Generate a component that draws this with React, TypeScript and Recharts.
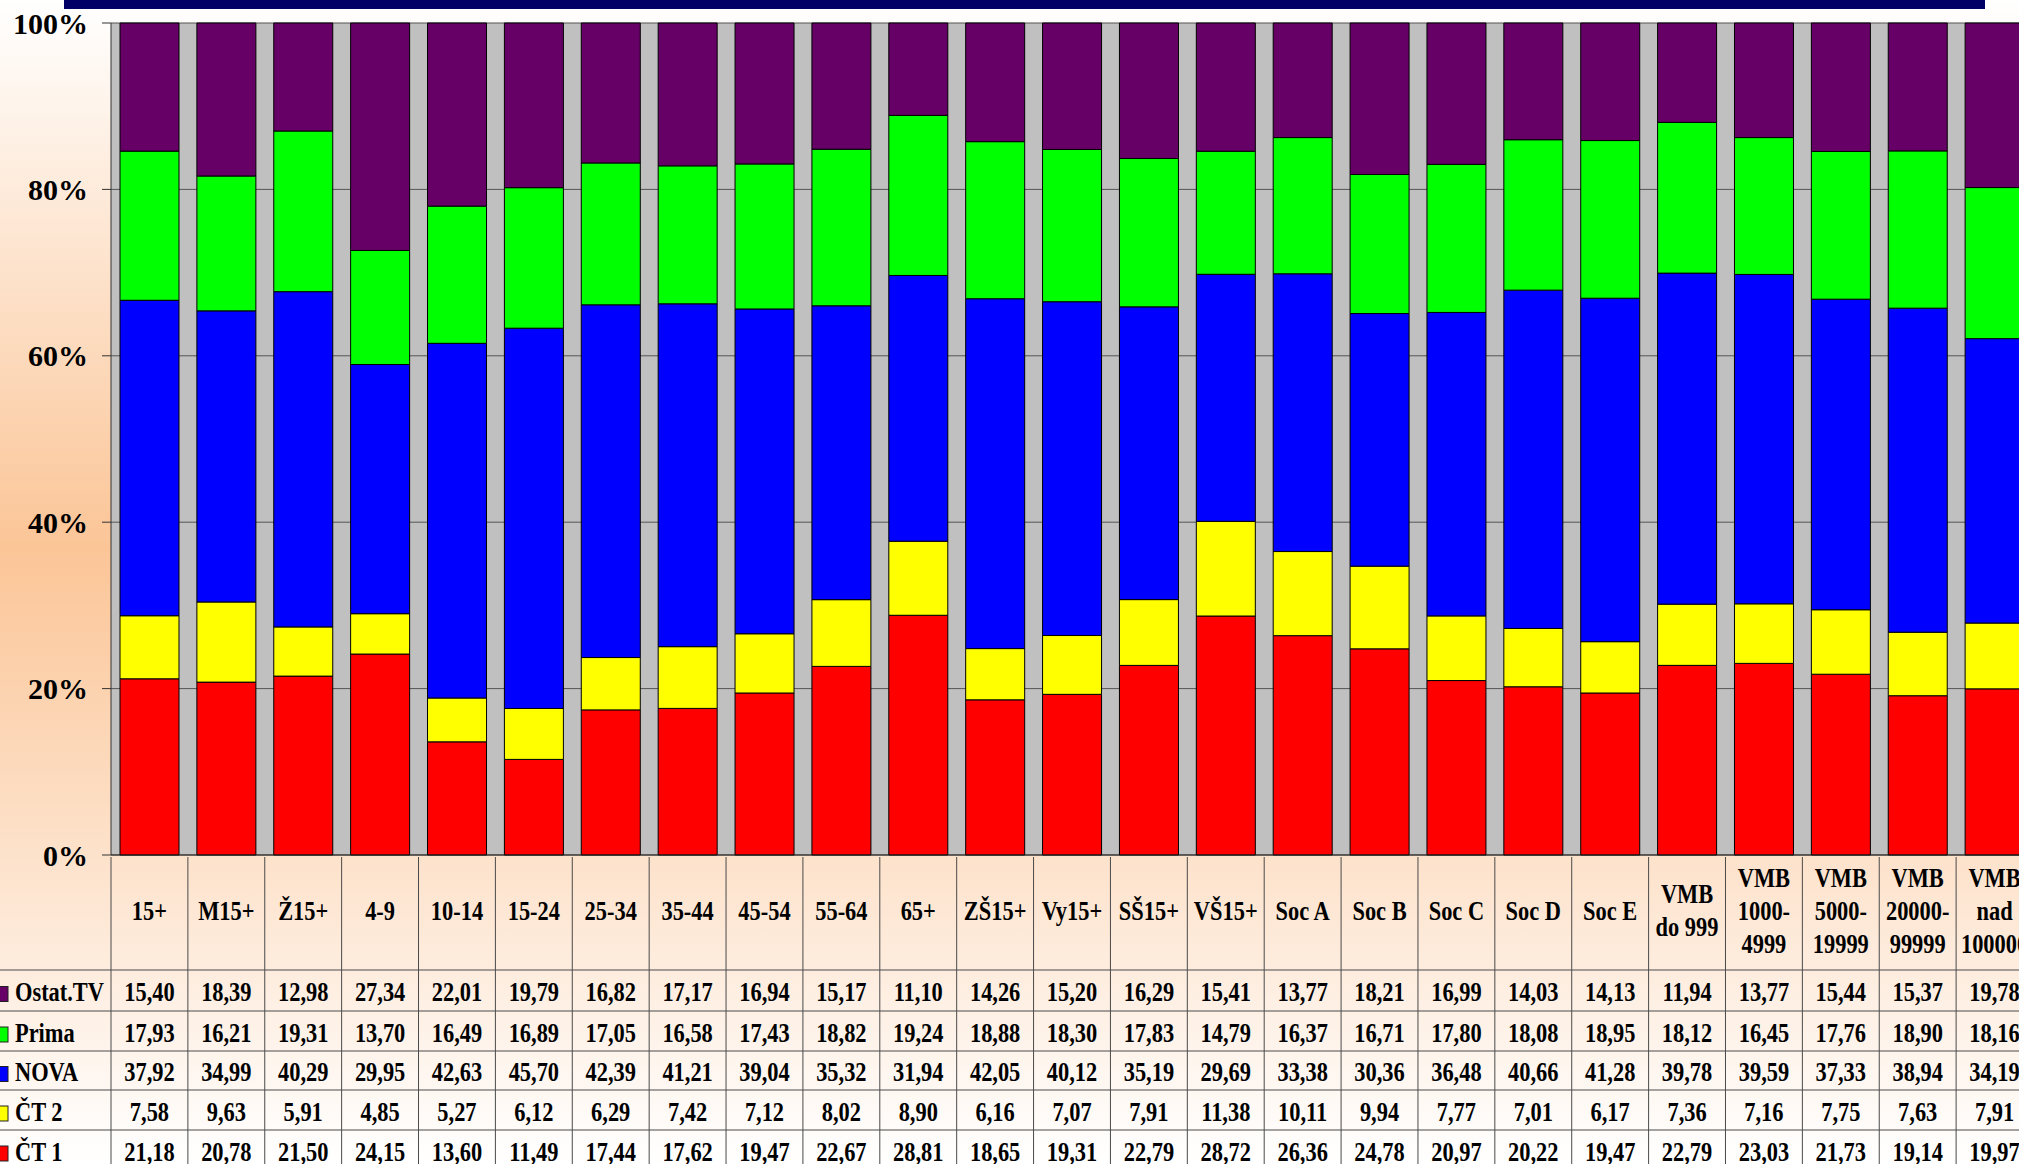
import { Bar, BarChart, CartesianGrid, XAxis, YAxis } from "recharts";

const categories = [
  "15+", "M15+", "Ž15+", "4-9", "10-14", "15-24", "25-34", "35-44", "45-54", "55-64",
  "65+", "ZŠ15+", "Vy15+", "SŠ15+", "VŠ15+", "Soc A", "Soc B", "Soc C", "Soc D", "Soc E",
  "VMB\ndo 999", "VMB\n1000-\n4999", "VMB\n5000-\n19999", "VMB\n20000-\n99999", "VMB\nnad\n100000",
];

const ostat = [15.40, 18.39, 12.98, 27.34, 22.01, 19.79, 16.82, 17.17, 16.94, 15.17, 11.10, 14.26, 15.20, 16.29, 15.41, 13.77, 18.21, 16.99, 14.03, 14.13, 11.94, 13.77, 15.44, 15.37, 19.78];
const prima = [17.93, 16.21, 19.31, 13.70, 16.49, 16.89, 17.05, 16.58, 17.43, 18.82, 19.24, 18.88, 18.30, 17.83, 14.79, 16.37, 16.71, 17.80, 18.08, 18.95, 18.12, 16.45, 17.76, 18.90, 18.16];
const nova = [37.92, 34.99, 40.29, 29.95, 42.63, 45.70, 42.39, 41.21, 39.04, 35.32, 31.94, 42.05, 40.12, 35.19, 29.69, 33.38, 30.36, 36.48, 40.66, 41.28, 39.78, 39.59, 37.33, 38.94, 34.19];
const ct2 = [7.58, 9.63, 5.91, 4.85, 5.27, 6.12, 6.29, 7.42, 7.12, 8.02, 8.90, 6.16, 7.07, 7.91, 11.38, 10.11, 9.94, 7.77, 7.01, 6.17, 7.36, 7.16, 7.75, 7.63, 7.91];
const ct1 = [21.18, 20.78, 21.50, 24.15, 13.60, 11.49, 17.44, 17.62, 19.47, 22.67, 28.81, 18.65, 19.31, 22.79, 28.72, 26.36, 24.78, 20.97, 20.22, 19.47, 22.79, 23.03, 21.73, 19.14, 19.97];

const yTicks = [0, 0.2, 0.4, 0.6, 0.8, 1];

// table row order (top to bottom); bars are stacked in reverse
const SERIES = [
  { key: "ostat", name: "Ostat.TV", color: "#660066", values: ostat },
  { key: "prima", name: "Prima", color: "#00FF00", values: prima },
  { key: "nova", name: "NOVA", color: "#0000FF", values: nova },
  { key: "ct2", name: "ČT 2", color: "#FFFF00", values: ct2 },
  { key: "ct1", name: "ČT 1", color: "#FF0000", values: ct1 },
];

const data = categories.map((name, i) => ({
  name,
  ostat: ostat[i],
  prima: prima[i],
  nova: nova[i],
  ct2: ct2[i],
  ct1: ct1[i],
}));

const FONT = '"Liberation Serif", "Times New Roman", serif';
const CHART_W = 2033;
const CHART_H = 1168;
const Y_W = 111;
const BW = (CHART_W - Y_W) / categories.length;
const HEADER_H = 113;
const ROW_H = [41, 40, 39, 40, 40];
const LINE = "#4a4a4a";
const SQUEEZE = 0.83;

const fmt = (v: number) => v.toFixed(2).replace(".", ",");

const SqText = ({ x, y, anchor, size = 27, children }: any) => (
  <text
    transform={`translate(${x},${y}) scale(${SQUEEZE},1)`}
    textAnchor={anchor}
    fontFamily={FONT}
    fontWeight="bold"
    fontSize={size}
    fill="#000"
  >
    {children}
  </text>
);

const HeaderTick = (props: any) => {
  const { x, y, payload } = props;
  const lines = String(payload.value).split("\n");
  const left = x - BW / 2;
  const mid = y + HEADER_H / 2 + 6;
  return (
    <g>
      <line x1={left} x2={left} y1={y} y2={y + HEADER_H} stroke={LINE} />
      {lines.map((ln, i) => (
        <SqText key={i} x={x} y={mid + (i - (lines.length - 1) / 2) * 33} anchor="middle">
          {ln}
        </SqText>
      ))}
    </g>
  );
};

const makeRowTick = (s: number, h: number) => (props: any) => {
  const { x, y, index } = props;
  const left = x - BW / 2;
  const series = SERIES[s];
  const base = y + h / 2 + 10.5;
  return (
    <g>
      <line x1={index === 0 ? 0 : left} x2={x + BW / 2} y1={y} y2={y} stroke={LINE} />
      <line x1={left} x2={left} y1={y} y2={y + h} stroke={LINE} />
      <SqText x={x} y={base} anchor="middle">{fmt(series.values[index])}</SqText>
      {index === 0 && (
        <>
          <rect x={-7} y={y + h / 2 - 4} width={15} height={15} fill={series.color} stroke="#222" />
          <SqText x={15} y={base} anchor="start">{series.name}</SqText>
        </>
      )}
    </g>
  );
};

export default function App() {
  return (
    <div
      style={{
        position: "absolute",
        left: 0,
        top: 0,
        width: 2019,
        height: 1164,
        overflow: "hidden",
        background: "linear-gradient(to bottom, #ffffff 0%, #fbc597 47%, #ffffff 100%)",
      }}
    >
      <div style={{ position: "absolute", left: 64, top: 0, width: 1921, height: 9, background: "#000066" }} />
      <BarChart
        width={CHART_W}
        height={CHART_H}
        data={data}
        stackOffset="expand"
        margin={{ top: 23, right: 0, bottom: 0, left: 0 }}
      >
        <CartesianGrid fill="#C0C0C0" stroke="#555" vertical={false} />
        <YAxis
          width={Y_W}
          domain={[0, 1]}
          ticks={yTicks}
          tickFormatter={(v: number) => `${Math.round(v * 100)}%`}
          tickSize={9}
          tickMargin={14}
          axisLine={{ stroke: "#333" }}
          tickLine={{ stroke: "#333" }}
          tick={{ fill: "#000", fontSize: 30, fontWeight: 700, fontFamily: FONT }}
        />
        <XAxis
          xAxisId={0}
          dataKey="name"
          height={HEADER_H}
          interval={0}
          tickSize={0}
          tickLine={false}
          axisLine={{ stroke: "#222" }}
          tick={HeaderTick}
        />
        {SERIES.map((s, i) => (
          <XAxis
            key={s.key}
            xAxisId={i + 1}
            dataKey="name"
            height={ROW_H[i]}
            interval={0}
            tickSize={0}
            tickLine={false}
            axisLine={false}
            tick={makeRowTick(i, ROW_H[i])}
          />
        ))}
        {[...SERIES].reverse().map((s) => (
          <Bar
            key={s.key}
            dataKey={s.key}
            name={s.name}
            stackId="a"
            xAxisId={0}
            fill={s.color}
            stroke="#000"
            strokeWidth={1}
            barSize={59}
            isAnimationActive={false}
          />
        ))}
      </BarChart>
    </div>
  );
}
